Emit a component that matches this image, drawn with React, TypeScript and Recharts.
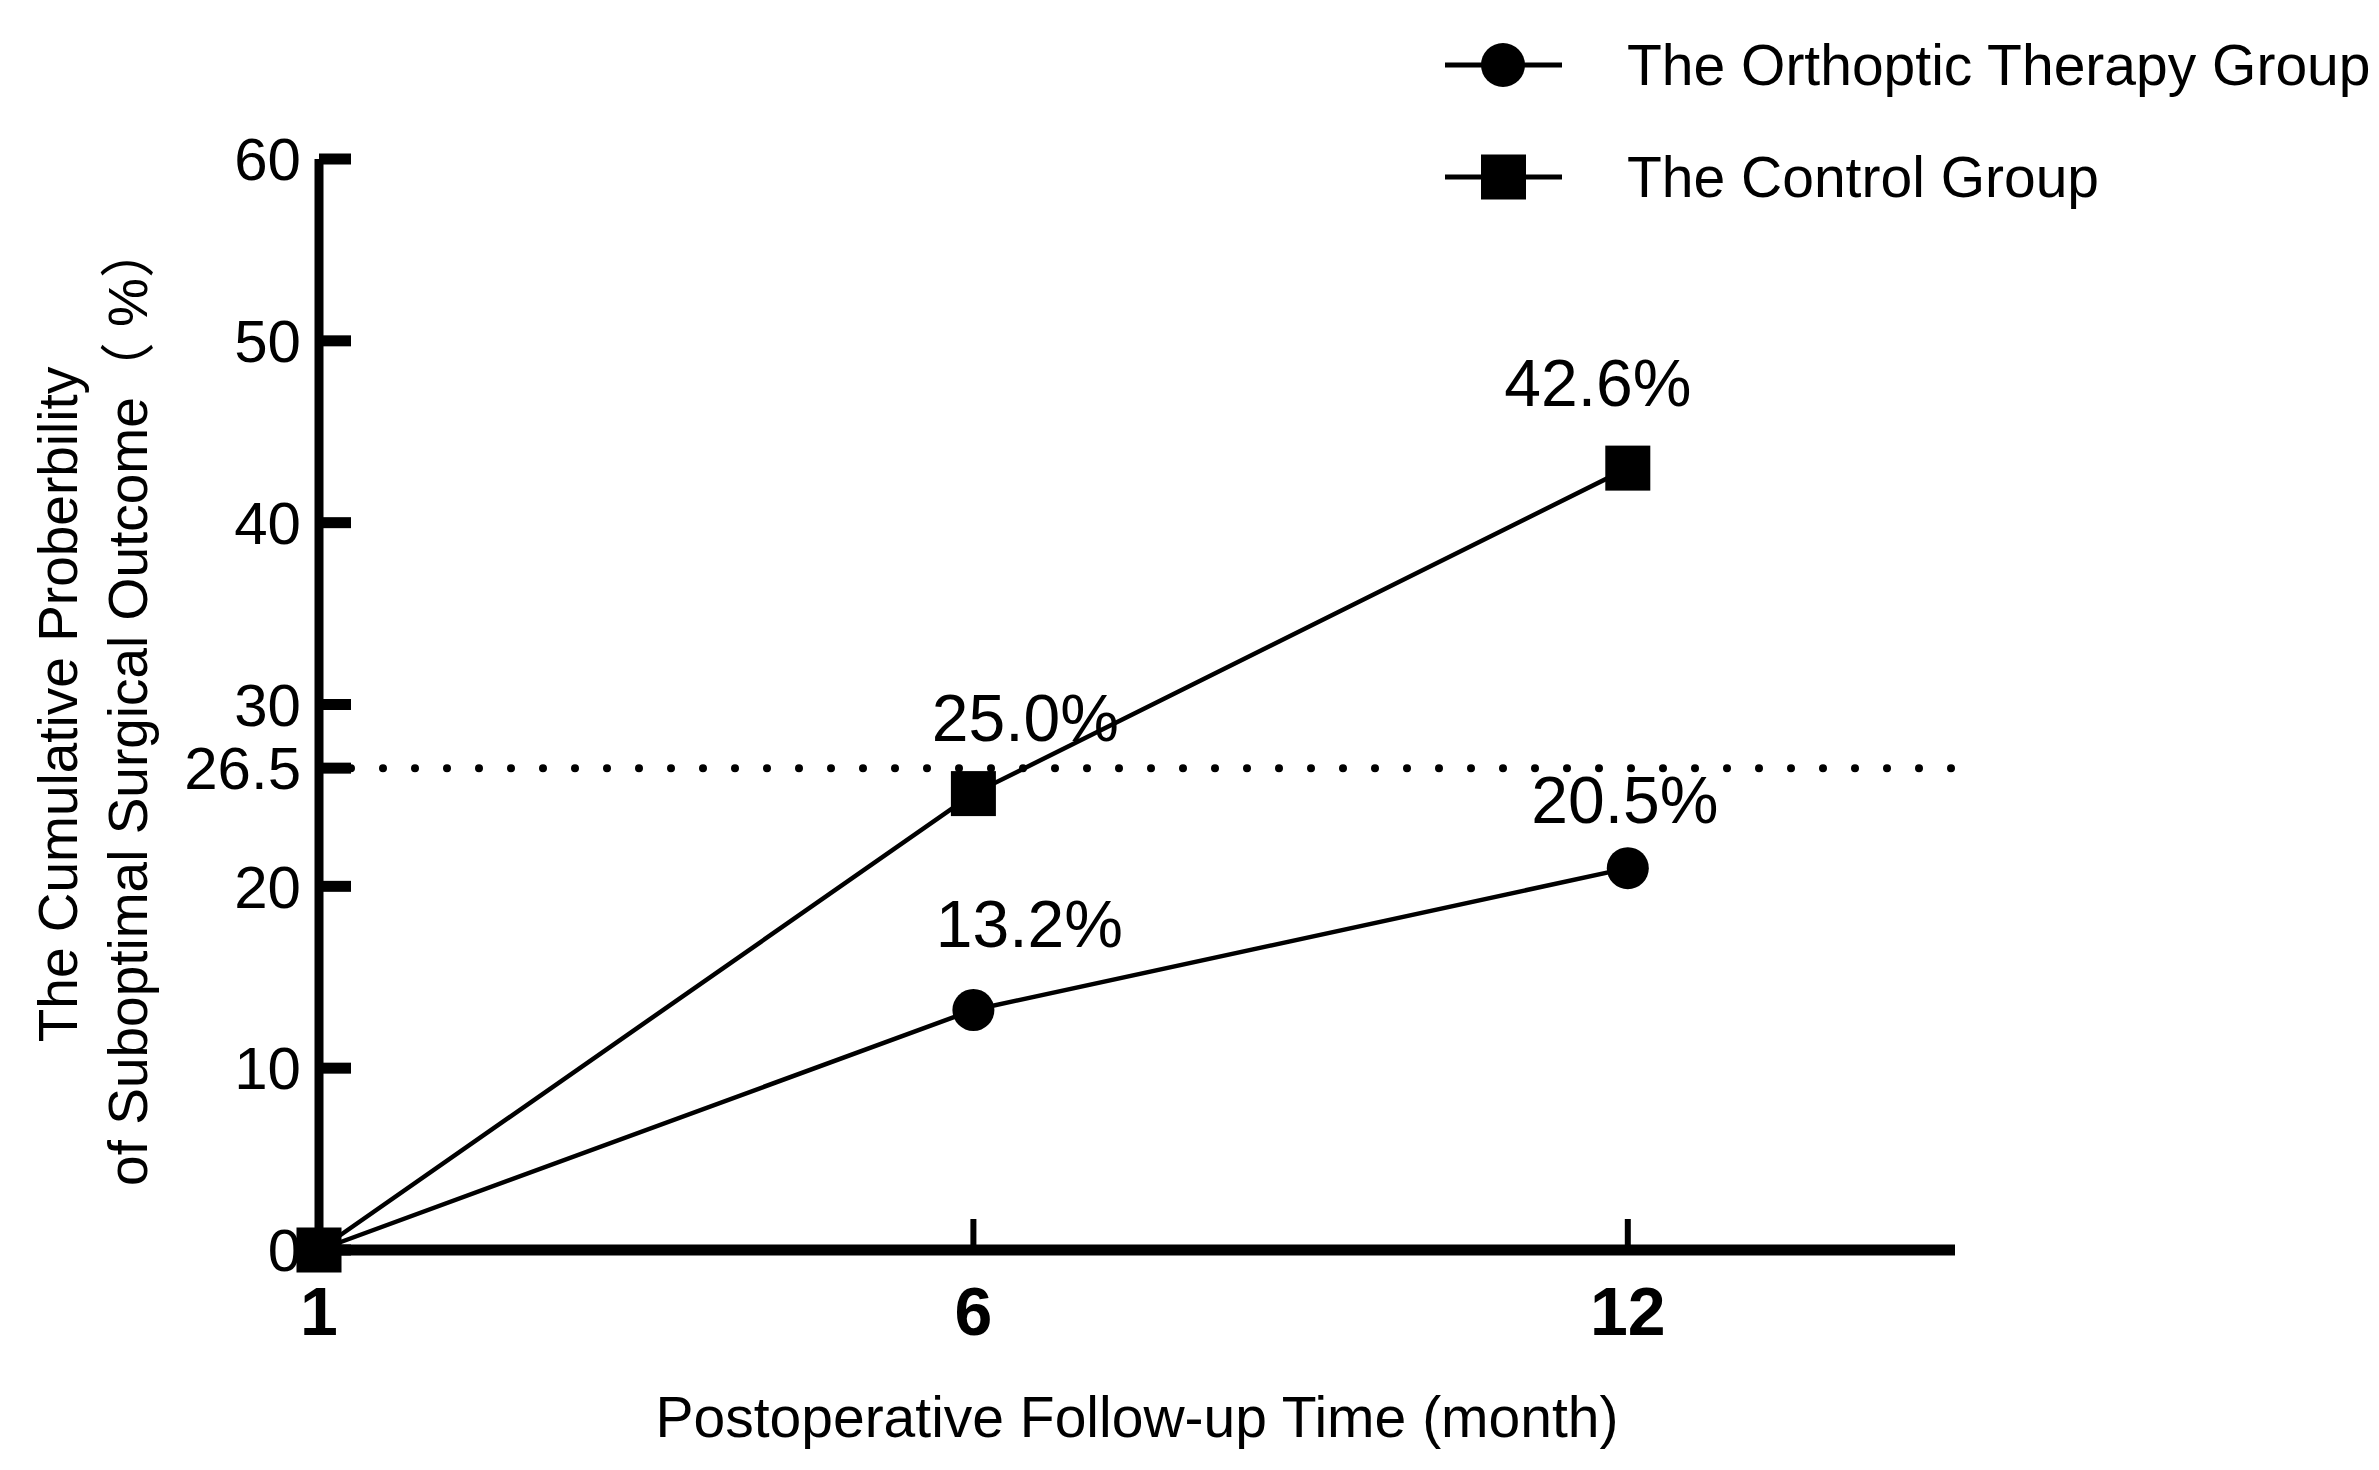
import { LineChart, Line, XAxis, YAxis, ReferenceLine, LabelList, Legend, Label } from 'recharts'

const FONT = '"Liberation Sans", Arial, "Noto Sans CJK SC", sans-serif'

const months = ['1', '6', '12']
// plotted positions
const orthoptic = [0, 13.2, 21.0]
const control = [0, 25.1, 43.0]
// annotated percentages as printed
const orthopticLabels = ['', '13.2%', '20.5%']
const controlLabels = ['', '25.0%', '42.6%']
const seriesNames = ['The Orthoptic Therapy Group', 'The Control Group']
const yTicks = [0, 10, 20, 26.5, 30, 40, 50, 60]
const threshold = 26.5
const yTitle = ['The Cumulative Proberbility', 'of Suboptimal Surgical Outcome（ %）']
const xTitle = 'Postoperative Follow-up Time (month)'

// label nudges (px) so the percentages sit where the original put them
const orthopticNudge = [null, { dx: 56, dy: 63 }, { dx: -3, dy: 45 }]
const controlNudge = [null, { dx: 52, dy: 53 }, { dx: -30, dy: 62 }]

const data = months.map((m, i) => ({
  idx: i,
  month: m,
  orthoptic: orthoptic[i],
  control: control[i],
}))

function pointLabel(values: number[], labels: string[], nudge: ({ dx: number; dy: number } | null)[]) {
  return (props: any) => {
    const { x, y, value } = props
    const i = values.indexOf(value)
    if (i <= 0 || !labels[i]) return null
    const n = nudge[i] || { dx: 0, dy: 60 }
    return (
      <text x={x + n.dx} y={y - n.dy} textAnchor="middle" fontSize={66} fontFamily={FONT} fill="#000">
        {labels[i]}
      </text>
    )
  }
}

function squareDot(props: any) {
  const { cx, cy, index } = props
  return <rect key={`sq-${index}`} x={cx - 22.5} y={cy - 22.5} width={45} height={45} fill="#000" />
}

function circleDot(props: any) {
  const { cx, cy, index } = props
  return <circle key={`ci-${index}`} cx={cx} cy={cy} r={21} fill="#000" />
}

function YTitle(props: any) {
  const vb = props.viewBox || { x: 0, y: 159, width: 319, height: 1091 }
  const cy = vb.y + vb.height / 2
  const xs = [vb.x + 58, vb.x + 128]
  return (
    <g>
      {yTitle.map((t, i) => (
        <text
          key={t}
          x={xs[i]}
          y={cy}
          transform={`rotate(-90 ${xs[i]} ${cy})`}
          textAnchor="middle"
          dominantBaseline="central"
          fontSize={55}
          fontFamily={FONT}
          fill="#000"
        >
          {t}
        </text>
      ))}
    </g>
  )
}

function XTitle(props: any) {
  const vb = props.viewBox || { x: 319, y: 1250, width: 1636, height: 220 }
  return (
    <text
      x={vb.x + vb.width / 2}
      y={vb.y + 167}
      textAnchor="middle"
      dominantBaseline="central"
      fontSize={57}
      fontFamily={FONT}
      fill="#000"
    >
      {xTitle}
    </text>
  )
}

function LegendBox() {
  const shapes = ['circle', 'square']
  return (
    <div style={{ fontFamily: FONT, color: '#000' }}>
      {seriesNames.map((name, i) => (
        <div key={name} style={{ display: 'flex', alignItems: 'center', height: 112 }}>
          <svg width={120} height={50}>
            <line x1={0} x2={117} y1={25} y2={25} stroke="#000" strokeWidth={5} />
            {shapes[i] === 'circle' ? (
              <circle cx={58} cy={25} r={22} fill="#000" />
            ) : (
              <rect x={36} y={2.5} width={45} height={45} fill="#000" />
            )}
          </svg>
          <span style={{ marginLeft: 62, fontSize: 57, lineHeight: 1, whiteSpace: 'nowrap' }}>{name}</span>
        </div>
      ))}
    </div>
  )
}

export default function App() {
  return (
    <div style={{ position: 'absolute', left: 0, top: 0, background: '#fff' }}>
      <LineChart width={2379} height={1470} data={data} margin={{ top: 159, right: 424, bottom: 0, left: 0 }}>
        <XAxis
          type="number"
          dataKey="idx"
          domain={[0, 2.5]}
          ticks={[0, 1, 2]}
          interval={0}
          tickFormatter={(v: number) => months[v] ?? ''}
          height={220}
          axisLine={{ stroke: '#000', strokeWidth: 11 }}
          tickLine={{ stroke: '#000', strokeWidth: 6 }}
          tickSize={-31}
          tickMargin={68}
          tick={{ fill: '#000', fontSize: 68, fontWeight: 'bold', fontFamily: FONT }}
        >
          <Label content={(p: any) => <XTitle {...p} />} />
        </XAxis>
        <YAxis
          type="number"
          domain={[0, 60]}
          ticks={yTicks}
          interval={0}
          width={319}
          axisLine={{ stroke: '#000', strokeWidth: 9 }}
          tickLine={{ stroke: '#000', strokeWidth: 11 }}
          tickSize={-32}
          tickMargin={50}
          tick={{ fill: '#000', fontSize: 60, fontFamily: FONT }}
        >
          <Label content={(p: any) => <YTitle {...p} />} />
        </YAxis>
        <ReferenceLine
          y={threshold}
          stroke="#000"
          strokeWidth={8}
          strokeDasharray="0 32"
          strokeLinecap="round"
        />
        <Legend
          layout="vertical"
          align="center"
          verticalAlign="middle"
          wrapperStyle={{ left: 1445, top: 9, width: 'auto', height: 'auto' }}
          content={() => <LegendBox />}
        />
        <Line
          type="linear"
          dataKey="orthoptic"
          name={seriesNames[0]}
          stroke="#000"
          strokeWidth={4.5}
          dot={circleDot}
          activeDot={false}
          isAnimationActive={false}
        >
          <LabelList dataKey="orthoptic" content={pointLabel(orthoptic, orthopticLabels, orthopticNudge)} />
        </Line>
        <Line
          type="linear"
          dataKey="control"
          name={seriesNames[1]}
          stroke="#000"
          strokeWidth={4.5}
          dot={squareDot}
          activeDot={false}
          isAnimationActive={false}
        >
          <LabelList dataKey="control" content={pointLabel(control, controlLabels, controlNudge)} />
        </Line>
      </LineChart>
    </div>
  )
}
